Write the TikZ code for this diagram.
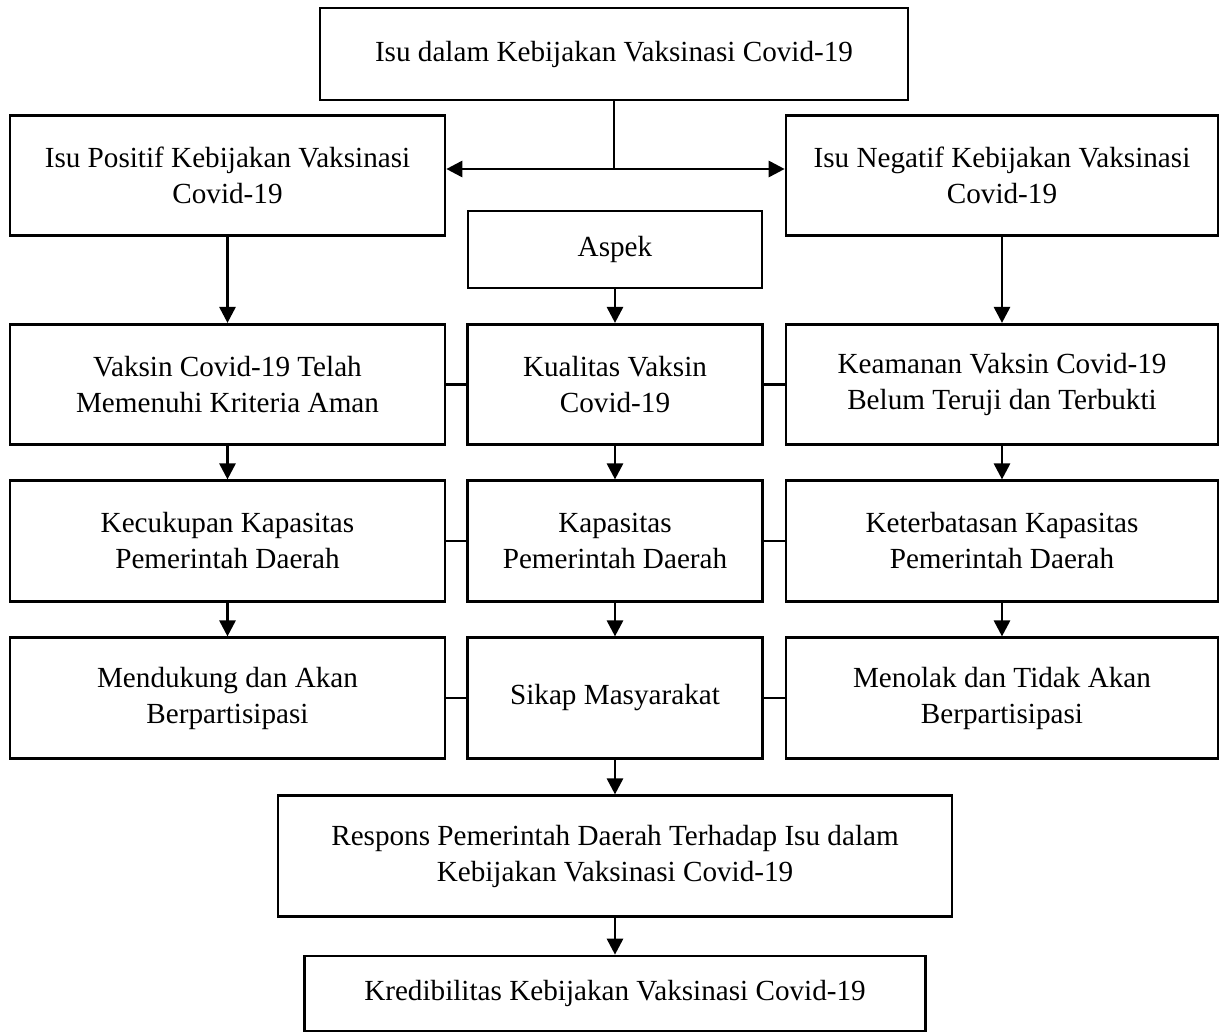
\documentclass[tikz,border=0pt]{standalone}
\usepackage{fontspec}
\setmainfont{Liberation Serif}
\usetikzlibrary{arrows.meta}
\begin{document}
\begin{tikzpicture}[x=1cm,y=1cm,
  box/.style={draw, line width=1.5pt, align=center, inner sep=0pt, font=\fontsize{16.6}{20.5}\selectfont},
  side/.style={box, minimum height=2.41cm},
  arr/.style={line width=1.6pt, -{Triangle[length=0.32cm,width=0.32cm]}},
  link/.style={line width=1.6pt}]
\useasboundingbox (0,0) rectangle (24.38,-20.68);

\node[box, minimum width=11.76cm, minimum height=1.84cm] (isu) at (12.28,-1.08) {Isu dalam Kebijakan Vaksinasi Covid-19};
\node[side, minimum width=8.7cm] (positif) at (4.55,-3.51) {Isu Positif Kebijakan Vaksinasi\\Covid-19};
\node[side, minimum width=8.64cm] (negatif) at (20.04,-3.51) {Isu Negatif Kebijakan Vaksinasi\\Covid-19};
\node[box, minimum width=5.88cm, minimum height=1.54cm] (aspek) at (12.3,-4.99) {Aspek};

\node[side, minimum width=8.7cm] (aman) at (4.55,-7.69) {Vaksin Covid-19 Telah\\Memenuhi Kriteria Aman};
\node[side, minimum width=5.9cm] (kualitas) at (12.3,-7.69) {Kualitas Vaksin\\Covid-19};
\node[side, minimum width=8.64cm] (belum) at (20.04,-7.69) {Keamanan Vaksin Covid-19\\Belum Teruji dan Terbukti};

\node[side, minimum width=8.7cm] (cukup) at (4.55,-10.82) {Kecukupan Kapasitas\\Pemerintah Daerah};
\node[side, minimum width=5.9cm] (kapasitas) at (12.3,-10.82) {Kapasitas\\Pemerintah Daerah};
\node[side, minimum width=8.64cm] (terbatas) at (20.04,-10.82) {Keterbatasan Kapasitas\\Pemerintah Daerah};

\node[side, minimum width=8.7cm] (dukung) at (4.55,-13.96) {Mendukung dan Akan\\Berpartisipasi};
\node[side, minimum width=5.9cm] (sikap) at (12.3,-13.96) {Sikap Masyarakat};
\node[side, minimum width=8.64cm] (tolak) at (20.04,-13.96) {Menolak dan Tidak Akan\\Berpartisipasi};

\node[side, minimum width=13.48cm] (respons) at (12.3,-17.12) {Respons Pemerintah Daerah Terhadap Isu dalam\\Kebijakan Vaksinasi Covid-19};
\node[box, minimum width=12.42cm, minimum height=1.5cm] (kredibel) at (12.3,-19.87) {Kredibilitas Kebijakan Vaksinasi Covid-19};

% split below the top box
\coordinate (cabang) at (12.28,-3.38);
\draw[link] (isu.south) -- (cabang);
\draw[arr] (cabang) -- (cabang -| positif.east);
\draw[arr] (cabang) -- (cabang -| negatif.west);

\draw[arr] (positif.south) -- (aman.north);
\draw[arr] (negatif.south) -- (belum.north);
\draw[arr] (aspek.south) -- (kualitas.north);

\draw[arr] (aman.south) -- (cukup.north);
\draw[arr] (kualitas.south) -- (kapasitas.north);
\draw[arr] (belum.south) -- (terbatas.north);
\draw[arr] (cukup.south) -- (dukung.north);
\draw[arr] (kapasitas.south) -- (sikap.north);
\draw[arr] (terbatas.south) -- (tolak.north);
\draw[arr] (sikap.south) -- (respons.north);
\draw[arr] (respons.south) -- (kredibel.north);

\draw[link] (aman.east) -- (kualitas.west);
\draw[link] (kualitas.east) -- (belum.west);
\draw[link] (cukup.east) -- (kapasitas.west);
\draw[link] (kapasitas.east) -- (terbatas.west);
\draw[link] (dukung.east) -- (sikap.west);
\draw[link] (sikap.east) -- (tolak.west);
\end{tikzpicture}
\end{document}
